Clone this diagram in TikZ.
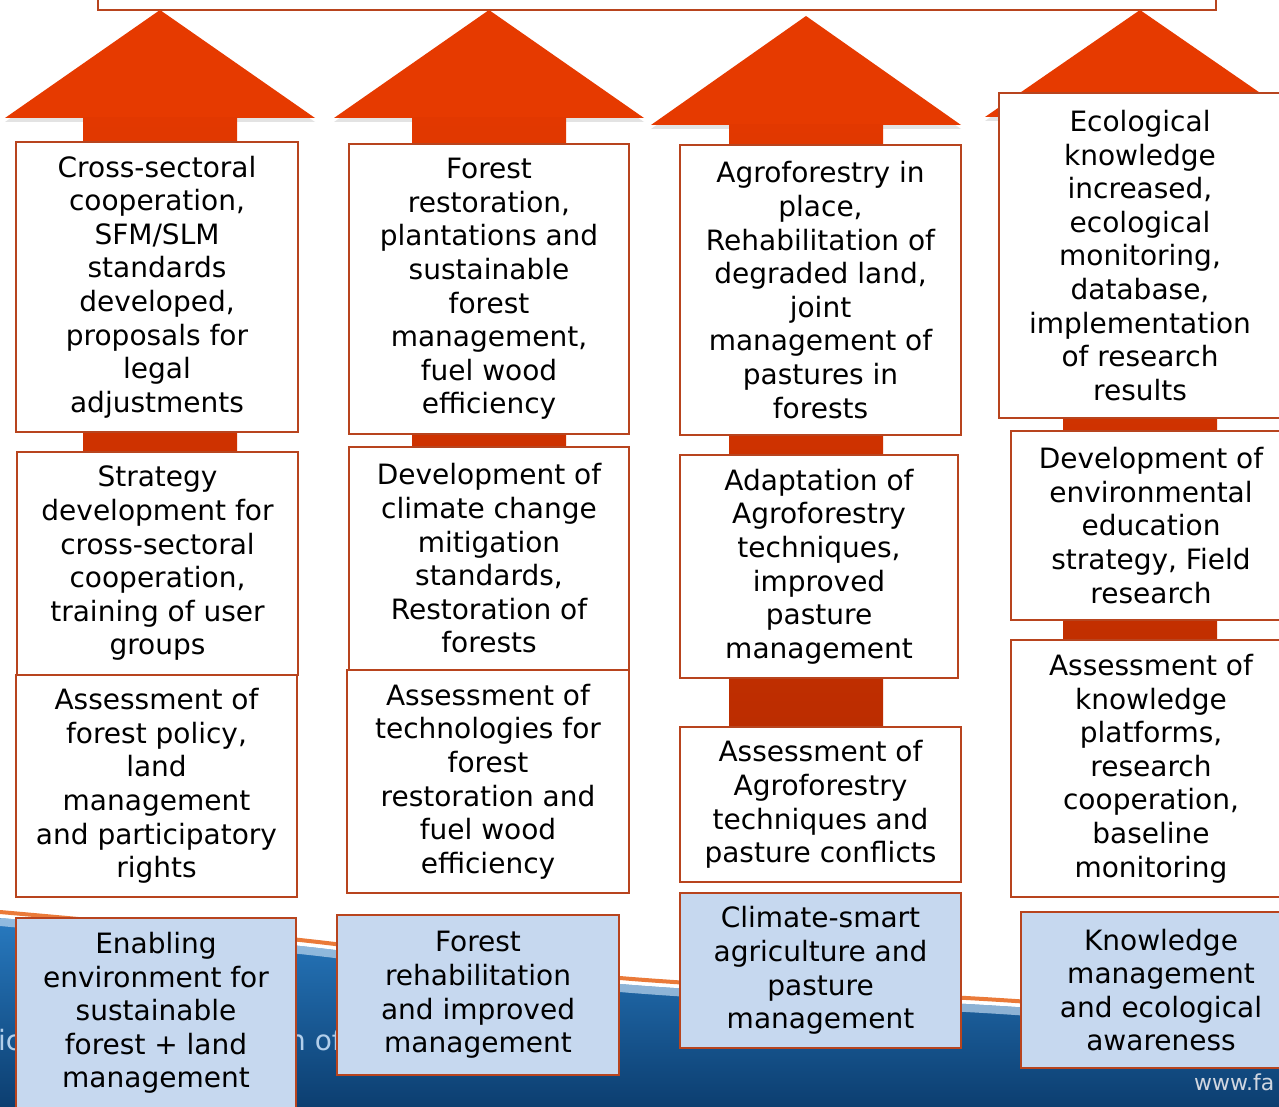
\documentclass[tikz,border=0pt]{standalone}
\usepackage{fontspec}
\setmainfont{DejaVu Sans}
\usetikzlibrary{shadows}

\definecolor{headred}{RGB}{230,58,0}
\definecolor{shafttop}{RGB}{226,56,0}
\definecolor{shaftbot}{RGB}{178,42,0}
\definecolor{boxline}{RGB}{184,68,30}
\definecolor{goalblue}{RGB}{198,216,239}
\definecolor{seatop}{RGB}{40,122,192}
\definecolor{seabot}{RGB}{12,62,112}
\definecolor{seaedge}{RGB}{190,215,238}
\definecolor{swoosh}{RGB}{232,108,36}
\definecolor{fragtext}{RGB}{178,206,234}
\definecolor{webtext}{RGB}{208,214,224}

\tikzset{
  stage/.style={draw=boxline,line width=1.6pt,fill=white,align=center,
    inner sep=0pt,font=\fontsize{28}{33.6}\selectfont},
  goal/.style={stage,fill=goalblue},
  wh/.style 2 args={minimum width=#1,minimum height=#2},
  frag/.style={text=fragtext,inner sep=0pt,anchor=west,font=\fontsize{28}{30}\selectfont},
}

% big up arrow: centre x, apex y, base y, foot y
\newcommand{\bigarrow}[4]{%
  \fill[headred,drop shadow={shadow xshift=0pt,shadow yshift=-4pt,opacity=.22}]
    (#1,#2) -- (#1+155,#3) -- (#1-155,#3) -- cycle;
  \shade[top color=shafttop,bottom color=shaftbot]
    (#1-77,#3) rectangle (#1+77,#4);
}

\begin{document}
\begin{tikzpicture}[x=1pt,y=-1pt]
     \useasboundingbox (0,0) rectangle (1279,1107);
     \clip (0,0) rectangle (1279,1107);
     \fill[white] (0,0) rectangle (1279,1107);
     \shade[top color=seatop,bottom color=seabot]
       plot[smooth] coordinates {(0,918) (300,946) (620,984) (1000,1006) (1279,1026)}
       -- (1279,1107) -- (0,1107) -- cycle;
     \draw[seaedge,line width=8pt,opacity=.7]
       plot[smooth] coordinates {(0,922) (300,950) (620,988) (1000,1010) (1279,1030)};
     \draw[swoosh,line width=4pt,opacity=.9]
       plot[smooth] coordinates {(0,912) (300,940) (620,978) (1000,1000) (1279,1020)};
     \node[frag] (frag1) at (-2,1040) {ic};
     \node[frag] (frag2) at (288,1040) {n of};
     \node[frag,text=webtext,font=\fontsize{22}{24}\selectfont] (web) at (1194,1082) {www.fa};

     \node[stage,wh={1118}{60}] (aim) at (657,-20) {};

     \bigarrow{160}{10}{118}{897}
     \bigarrow{489}{10}{118}{893}
     \bigarrow{806}{16}{125}{882}
     \bigarrow{1140}{10}{117}{897}

     \node[stage,wh={282}{290}] (a1) at (157,287)
       {Cross-sectoral\\cooperation,\\SFM/SLM\\standards\\developed,\\proposals for\\legal\\adjustments};
     \node[stage,wh={281}{223}] (a2) at (157.5,563.5)
       {Strategy\\development for\\cross-sectoral\\cooperation,\\training of user\\groups};
     \node[stage,wh={281}{222}] (a3) at (156.5,786)
       {Assessment of\\forest policy,\\land\\management\\and participatory\\rights};
     \node[goal,wh={280}{190}] (a4) at (156,1013)
       {Enabling\\environment for\\sustainable\\forest + land\\management};

     \node[stage,wh={280}{290}] (b1) at (489,289)
       {Forest\\restoration,\\plantations and\\sustainable\\forest\\management,\\fuel wood\\efficiency};
     \node[stage,wh={280}{223}] (b2) at (489,558.5)
       {Development of\\climate change\\mitigation\\standards,\\Restoration of\\forests};
     \node[stage,wh={282}{223}] (b3) at (488,781.5)
       {Assessment of\\technologies for\\forest\\restoration and\\fuel wood\\efficiency};
     \node[goal,wh={282}{160}] (b4) at (478,995)
       {Forest\\rehabilitation\\and improved\\management};

     \node[stage,wh={281}{290}] (c1) at (820.5,290)
       {Agroforestry in\\place,\\Rehabilitation of\\degraded land,\\joint\\management of\\pastures in\\forests};
     \node[stage,wh={278}{223}] (c2) at (819,566.5)
       {Adaptation of\\Agroforestry\\techniques,\\improved\\pasture\\management};
     \node[stage,wh={281}{155}] (c3) at (820.5,804.5)
       {Assessment of\\Agroforestry\\techniques and\\pasture conflicts};
     \node[goal,wh={281}{155}] (c4) at (820.5,970.5)
       {Climate-smart\\agriculture and\\pasture\\management};

     \node[stage,wh={282}{325}] (d1) at (1140,255.5)
       {Ecological\\knowledge\\increased,\\ecological\\monitoring,\\database,\\implementation\\of research\\results};
     \node[stage,wh={280}{189}] (d2) at (1151,525.5)
       {Development of\\environmental\\education\\strategy, Field\\research};
     \node[stage,wh={280}{257}] (d3) at (1151,768.5)
       {Assessment of\\knowledge\\platforms,\\research\\cooperation,\\baseline\\monitoring};
     \node[goal,wh={280}{156}] (d4) at (1161,990)
       {Knowledge\\management\\and ecological\\awareness};
\end{tikzpicture}
\end{document}
